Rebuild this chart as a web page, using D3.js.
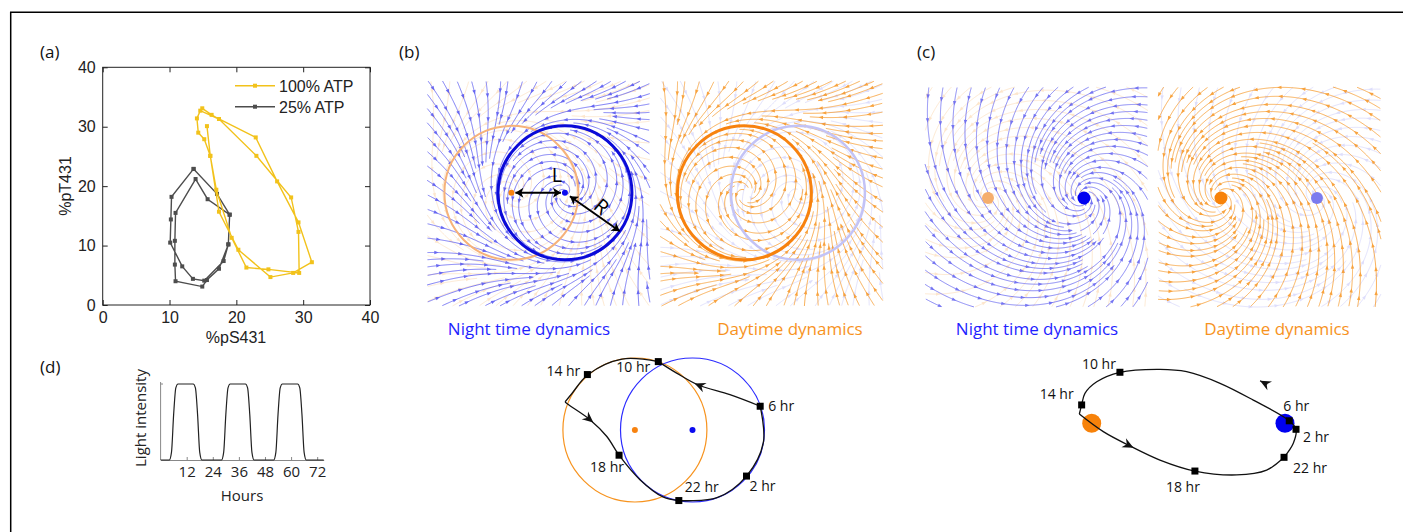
<!DOCTYPE html>
<html>
<head>
<meta charset="utf-8">
<script src="https://cdn.jsdelivr.net/npm/d3@7"></script>
<style>
  body { margin: 0; background: #fff; }
  svg { display: block; }
</style>
</head>
<body>
<svg id="fig" width="1403" height="532"></svg>
<script>
// ---- panel (a): phospho-state loops ----
var A_TICKS = [0, 10, 20, 30, 40];
var SERIES = ["100% ATP", "25% ATP"];
var ATP100_S = [14.9, 16.3, 17.4, 22.9, 26.1, 29.3, 31.3, 28.5, 25.1, 20.3, 17.4, 16.1, 15.2, 14.3, 14.1, 14.6, 17.4, 23.0, 28.2, 29.3, 29.4, 24.8, 21.5, 19.3, 17.0, 16.1, 15.6];
var ATP100_T = [33.1, 32.0, 31.3, 28.2, 20.8, 13.9, 7.2, 5.4, 4.7, 9.3, 15.7, 25.1, 27.9, 29.0, 31.4, 32.7, 31.3, 25.1, 18.1, 12.3, 5.4, 6.0, 6.3, 11.3, 19.4, 25.1, 30.1];
var ATP25_S = [13.6, 17.1, 19.0, 18.8, 17.4, 15.6, 14.9, 10.9, 10.8, 10.8, 10.9, 13.9, 15.7, 19.0, 18.8, 18.1, 15.2, 13.5, 11.9, 10.1, 10.2, 10.3, 13.6];
var ATP25_T = [22.9, 18.7, 15.2, 10.2, 6.1, 4.2, 3.1, 4.0, 6.8, 10.8, 15.5, 21.2, 17.8, 15.2, 10.2, 7.4, 4.1, 4.4, 6.5, 10.5, 14.4, 18.2, 22.9];

// ---- panel (d): light schedule ----
var HOURS = [0, 4, 5, 6, 7, 8, 15, 16, 17, 18, 19, 28, 29, 30, 31, 32, 39, 40, 41, 42, 43, 52, 53, 54, 55, 56, 63, 64, 65, 66, 67, 75];
var LIGHT = [0, 0, 0.1, 0.6, 0.95, 1, 1, 0.95, 0.6, 0.1, 0, 0, 0.1, 0.6, 0.95, 1, 1, 0.95, 0.6, 0.1, 0, 0, 0.1, 0.6, 0.95, 1, 1, 0.95, 0.6, 0.1, 0, 0];
var HOUR_TICKS = [12, 24, 36, 48, 60, 72];

// ---- panel (b): limit cycles (units of R), night centre at 0 ----
var B_SHIFT = -0.8;            // day cycle centre (L)
var B_TRAJ = [
  [[-0.19, -0.98], [0.34, -0.94], [0.75, -0.64], [0.985, -0.17], [0.94, 0.33]],
  [[0.94, 0.33], [0.52, 0.49], [0.08, 0.625], [-0.22, 0.79], [-0.475, 0.95]],
  [[-0.475, 0.95], [-0.98, 0.985], [-1.45, 0.77], [-1.68, 0.5], [-1.77, 0.39]],
  [[-1.77, 0.39], [-1.72, 0.35], [-1.42, 0.14], [-1.19, -0.09], [-1.02, -0.35], [-0.73, -0.69], [-0.41, -0.93], [-0.19, -0.98]]
];
var B_ARROWS = [[1, 2], [3, 2]];   // [segment, point index]
var B_TIMES = ["6 hr", "10 hr", "14 hr", "18 hr", "22 hr", "2 hr"];
var B_MARKS = [[0.94, 0.33], [-0.475, 0.95], [-1.46, 0.77], [-1.02, -0.35], [-0.19, -0.98], [0.75, -0.64]];

// ---- panel (c): stable foci (units of dot distance), night focus at 0 ----
var C_SHIFT = -1;
var C_TRAJ = [
  [[-0.005, -0.176], [0.043, -0.103], [0.057, -0.031], [0.022, 0.013], [-0.164, 0.12], [-0.336, 0.207], [-0.509, 0.267], [-0.647, 0.279], [-0.854, 0.264], [-0.974, 0.215], [-1.035, 0.155], [-1.052, 0.095], [-1.064, 0.048]],
  [[-1.064, 0.048], [-0.94, -0.043], [-0.802, -0.117], [-0.647, -0.19], [-0.466, -0.247], [-0.25, -0.267], [-0.095, -0.242], [-0.005, -0.176]]
];
var C_ARROWS = [[1, 2]];
var C_FREE_ARROW = [-0.129, 0.22];
var C_TIMES = ["6 hr", "10 hr", "14 hr", "18 hr", "22 hr", "2 hr"];
var C_MARKS = [[0.022, 0.013], [-0.854, 0.264], [-1.052, 0.095], [-0.466, -0.247], [-0.005, -0.176], [0.057, -0.031]];

var SANS = "'Open Sans', 'Noto Sans', sans-serif";
var HELV = "'Liberation Sans', Arial, sans-serif";
var BLUE = "#1f1fff", ORANGE = "#f7931e", GOLD = "#f2c21b", GREY = "#4d4d4d";

var svg = d3.select("#fig");

// frame
svg.append("path").attr("d", "M10.7,532V12.3H1403").attr("fill", "none").attr("stroke", "#000").attr("stroke-width", 1.5);

function panelLabel(t, x, y) {
  svg.append("text").attr("x", x).attr("y", y).text(t)
    .style("font-family", SANS).style("font-size", "17px").attr("fill", "#111");
}
panelLabel("(a)", 40, 58);
panelLabel("(b)", 399, 58);
panelLabel("(c)", 917, 58);
panelLabel("(d)", 40, 373);

// ================= panel (a) =================
(function () {
  var g = svg.append("g");
  var x = d3.scaleLinear().domain([0, 40]).range([102.7, 370]);
  var y = d3.scaleLinear().domain([0, 40]).range([305, 67.3]);
  var tf = function (s) { s.selectAll("text").style("font-family", HELV).style("font-size", "16px").attr("fill", "#222"); s.select(".domain").remove(); s.selectAll("line").attr("stroke", "#222"); };
  g.append("g").attr("transform", "translate(0,305)").call(d3.axisBottom(x).tickValues(A_TICKS).tickSize(-5).tickPadding(7)).call(tf);
  g.append("g").attr("transform", "translate(102.7,0)").call(d3.axisLeft(y).tickValues(A_TICKS).tickSize(-5).tickPadding(7)).call(tf);
  g.append("g").attr("transform", "translate(0,67.3)").call(d3.axisTop(x).tickValues(A_TICKS).tickSize(-5).tickFormat("")).call(tf);
  g.append("g").attr("transform", "translate(370,0)").call(d3.axisRight(y).tickValues(A_TICKS).tickSize(-5).tickFormat("")).call(tf);
  g.append("rect").attr("x", x(0)).attr("y", y(40)).attr("width", x(40) - x(0)).attr("height", y(0) - y(40))
    .attr("fill", "none").attr("stroke", "#222").attr("stroke-width", 1);

  var sets = [[ATP100_S, ATP100_T, GOLD], [ATP25_S, ATP25_T, GREY]];
  sets.slice().reverse().forEach(function (s) {
    var pts = s[0].map(function (v, i) { return [v, s[1][i]]; });
    g.append("path").datum(pts).attr("d", d3.line().x(function (d) { return x(d[0]); }).y(function (d) { return y(d[1]); }))
      .attr("fill", "none").attr("stroke", s[2]).attr("stroke-width", 1.4);
    g.selectAll(null).data(pts).enter().append("rect")
      .attr("x", function (d) { return x(d[0]) - 2; }).attr("y", function (d) { return y(d[1]) - 2; })
      .attr("width", 4).attr("height", 4).attr("fill", s[2]);
  });

  // legend
  sets.forEach(function (s, i) {
    var ly = 85.7 + i * 21;
    g.append("line").attr("x1", 235).attr("x2", 275).attr("y1", ly).attr("y2", ly).attr("stroke", s[2]).attr("stroke-width", 1.4);
    g.append("rect").attr("x", 253).attr("y", ly - 2).attr("width", 4).attr("height", 4).attr("fill", s[2]);
    g.append("text").attr("x", 279).attr("y", ly + 6).text(SERIES[i])
      .style("font-family", HELV).style("font-size", "16px").attr("fill", "#222");
  });

  g.append("text").attr("x", 236).attr("y", 343).attr("text-anchor", "middle").text("%pS431")
    .style("font-family", HELV).style("font-size", "16px").attr("fill", "#222");
  g.append("text").attr("transform", "translate(71,186) rotate(-90)").attr("text-anchor", "middle").text("%pT431")
    .style("font-family", HELV).style("font-size", "16px").attr("fill", "#222");
})();

// ================= panel (d) =================
(function () {
  var g = svg.append("g");
  var x = d3.scaleLinear().domain([0, 75]).range([160.6, 323.7]);
  var y = d3.scaleLinear().domain([0, 1]).range([460, 384]);
  var ax = g.append("g").attr("transform", "translate(0,460)")
    .call(d3.axisBottom(x).tickValues(HOUR_TICKS).tickSize(-3).tickSizeOuter(0).tickPadding(6));
  ax.select(".domain").attr("stroke", "#888");
  ax.selectAll("line").attr("stroke", "#888");
  ax.selectAll("text").style("font-family", SANS).style("font-size", "15px").attr("fill", "#222");
  g.append("line").attr("x1", 160.6).attr("x2", 160.6).attr("y1", 460).attr("y2", 382).attr("stroke", "#888");
  g.append("line").attr("x1", 160.6).attr("x2", 163).attr("y1", 384).attr("y2", 384).attr("stroke", "#888");
  var pts = HOURS.map(function (h, i) { return [h, LIGHT[i]]; });
  g.append("path").datum(pts).attr("d", d3.line().curve(d3.curveMonotoneX).x(function (d) { return x(d[0]); }).y(function (d) { return y(d[1]); }))
    .attr("fill", "none").attr("stroke", "#222").attr("stroke-width", 1.2);
  g.append("text").attr("x", 242).attr("y", 501).attr("text-anchor", "middle").text("Hours")
    .style("font-family", SANS).style("font-size", "15px").attr("fill", "#222");
  g.append("text").attr("transform", "translate(146,418) rotate(-90)").attr("text-anchor", "middle").text("Light intensity")
    .style("font-family", SANS).style("font-size", "15px").attr("fill", "#222");
})();

// ================= stream plots =================
function streamPlot(g, box, field, opt) {
  var d = opt.sep, dt = d * 0.5;
  var nx = Math.ceil(box.w / d) + 2, ny = Math.ceil(box.h / d) + 2;
  var grid = [];
  for (var i = 0; i < nx * ny; i++) grid.push([]);
  function cell(x, y) { return [Math.floor((x - box.x) / d), Math.floor((y - box.y) / d)]; }
  function free(x, y, r) {
    var c = cell(x, y);
    for (var i = c[0] - 1; i <= c[0] + 1; i++) for (var j = c[1] - 1; j <= c[1] + 1; j++) {
      if (i < 0 || j < 0 || i >= nx || j >= ny) continue;
      var cp = grid[j * nx + i];
      for (var k = 0; k < cp.length; k++) {
        var dx = cp[k][0] - x, dy = cp[k][1] - y;
        if (dx * dx + dy * dy < r * r) return false;
      }
    }
    return true;
  }
  function inside(x, y) { return x >= box.x && x <= box.x + box.w && y >= box.y && y <= box.y + box.h; }
  function dir(x, y) {
    var v = field(x, y); if (!v) return null;
    var n = Math.hypot(v[0], v[1]); if (n < 1e-9) return null;
    return [v[0] / n, v[1] / n];
  }
  function trace(x, y, s) {
    var pts = [], len = 0;
    while (len < opt.maxLen) {
      var a = dir(x, y); if (!a) break;
      var b = dir(x + s * a[0] * 0.5, y + s * a[1] * 0.5); if (!b) break;
      x += s * b[0]; y += s * b[1]; len += 1;
      if (!inside(x, y) || !free(x, y, dt)) break;
      pts.push([x, y]);
    }
    return pts;
  }
  var lines = [];
  for (var sy = box.y + d / 2; sy < box.y + box.h; sy += d) {
    for (var sx = box.x + d / 2; sx < box.x + box.w; sx += d) {
      if (!free(sx, sy, d)) continue;
      var f = trace(sx, sy, 1), bk = trace(sx, sy, -1);
      var pts = bk.reverse().concat([[sx, sy]], f);
      if (pts.length < opt.minLen) continue;
      pts.forEach(function (p) { var c = cell(p[0], p[1]); grid[c[1] * nx + c[0]].push(p); });
      lines.push(pts);
    }
  }
  var lg = g.append("g").attr("opacity", opt.opacity);
  lg.selectAll(null).data(lines).enter().append("path")
    .attr("d", d3.line()).attr("fill", "none").attr("stroke", opt.color).attr("stroke-width", opt.width);
  var heads = [];
  lines.forEach(function (pts, li) {
    var next = opt.arrowEvery * (0.35 + 0.3 * ((li * 7) % 5) / 4);
    for (var i = 1; i < pts.length - 1; i++) {
      if (i >= next) {
        heads.push([pts[i][0], pts[i][1], Math.atan2(pts[i + 1][1] - pts[i - 1][1], pts[i + 1][0] - pts[i - 1][0]) * 180 / Math.PI]);
        next += opt.arrowEvery;
      }
    }
  });
  lg.selectAll(null).data(heads).enter().append("path")
    .attr("d", "M2.2,0L-2.2,-1.7L-2.2,1.7Z")
    .attr("transform", function (h) { return "translate(" + h[0] + "," + h[1] + ") rotate(" + h[2] + ")"; })
    .attr("fill", opt.color);
}

// dynamics in unit coordinates (v up)
var LAM = 0.6, OM = 1.0, FOC = 0.55;
function hopf(cx) {
  return function (u, v) {
    var x = u - cx, y = v, r2 = x * x + y * y;
    if (r2 < 0.0025) return null;
    return [LAM * x * (1 - r2) - OM * y, LAM * y * (1 - r2) + OM * x];
  };
}
function focus(cx) {
  return function (u, v) {
    var x = u - cx, y = v, r2 = x * x + y * y;
    if (r2 < 0.0016) return null;
    return [-FOC * x - OM * y, -FOC * y + OM * x];
  };
}

function phaseBox(box, domX, domY, mainF, mainC, faintF, faintC) {
  var g = svg.append("g");
  var sx = d3.scaleLinear().domain(domX).range([box.x, box.x + box.w]);
  var sy = d3.scaleLinear().domain(domY).range([box.y + box.h, box.y]);
  function screen(f) {
    return function (px, py) { var r = f(sx.invert(px), sy.invert(py)); return r ? [r[0], -r[1]] : null; };
  }
  streamPlot(g, box, screen(faintF), { sep: 9, maxLen: 260, minLen: 8, color: faintC, opacity: 0.22, width: 0.9, arrowEvery: 26 });
  streamPlot(g, box, screen(mainF), { sep: 7, maxLen: 300, minLen: 8, color: mainC, opacity: 0.85, width: 0.85, arrowEvery: 24 });
  return { g: g, sx: sx, sy: sy };
}

// ---- (b) top ----
var BDX = [-2.06, 1.27], BDY = [-1.69, 1.67];
var bn = phaseBox({ x: 427, y: 81, w: 223, h: 225 }, BDX, BDY, hopf(0), "#4d4df0", hopf(B_SHIFT), ORANGE);
var bd = phaseBox({ x: 660, y: 81, w: 223, h: 225 }, BDX, BDY, hopf(B_SHIFT), ORANGE, hopf(0), "#6f6ff2");

(function () {
  var k = bn.sx(1) - bn.sx(0);
  bn.g.append("circle").attr("cx", bn.sx(B_SHIFT)).attr("cy", bn.sy(0)).attr("r", k).attr("fill", "none").attr("stroke", "#f6b27a").attr("stroke-width", 2);
  bn.g.append("circle").attr("cx", bn.sx(0)).attr("cy", bn.sy(0)).attr("r", k).attr("fill", "none").attr("stroke", "#0a0ad8").attr("stroke-width", 3);
  bd.g.append("circle").attr("cx", bd.sx(0)).attr("cy", bd.sy(0)).attr("r", k).attr("fill", "none").attr("stroke", "#c3c3f6").attr("stroke-width", 2.5);
  bd.g.append("circle").attr("cx", bd.sx(B_SHIFT)).attr("cy", bd.sy(0)).attr("r", k).attr("fill", "none").attr("stroke", "#f7820f").attr("stroke-width", 3);
  bn.g.append("circle").attr("cx", bn.sx(B_SHIFT)).attr("cy", bn.sy(0)).attr("r", 3).attr("fill", "#f7820f");
  bn.g.append("circle").attr("cx", bn.sx(0)).attr("cy", bn.sy(0)).attr("r", 3).attr("fill", "#0a0af0");

  var head = "M0,0L-8,-5L-6,0L-8,5Z";
  function dbl(x1, y1, x2, y2) {
    var a = Math.atan2(y2 - y1, x2 - x1) * 180 / Math.PI;
    bn.g.append("line").attr("x1", x1).attr("y1", y1).attr("x2", x2).attr("y2", y2).attr("stroke", "#000").attr("stroke-width", 2);
    bn.g.append("path").attr("d", head).attr("transform", "translate(" + x2 + "," + y2 + ") rotate(" + a + ")");
    bn.g.append("path").attr("d", head).attr("transform", "translate(" + x1 + "," + y1 + ") rotate(" + (a + 180) + ")");
  }
  dbl(bn.sx(B_SHIFT) + 4, bn.sy(0), bn.sx(0) - 4, bn.sy(0));
  var ang = -35 * Math.PI / 180;
  dbl(bn.sx(0) + 6 * Math.cos(ang), bn.sy(0) - 6 * Math.sin(ang), bn.sx(Math.cos(ang)), bn.sy(Math.sin(ang)));
  bn.g.append("text").attr("x", 557).attr("y", 182).attr("text-anchor", "middle").text("L")
    .style("font-family", SANS).style("font-size", "20px");
  bn.g.append("text").attr("transform", "translate(597,212) rotate(40)").attr("text-anchor", "middle").text("R")
    .style("font-family", SANS).style("font-size", "20px");
})();

// ---- (c) top ----
var CDX = [-1.656, 0.667], CDY = [-1.135, 1.156];
var cn = phaseBox({ x: 925, y: 87, w: 223, h: 220 }, CDX, CDY, focus(0), "#5c5cf0", focus(C_SHIFT), ORANGE);
var cd = phaseBox({ x: 1158, y: 87, w: 223, h: 220 }, CDX, CDY, focus(C_SHIFT), ORANGE, focus(0), "#6f6ff2");
cn.g.append("circle").attr("cx", cn.sx(C_SHIFT)).attr("cy", cn.sy(0)).attr("r", 6).attr("fill", "#f5ae6c");
cn.g.append("circle").attr("cx", cn.sx(0)).attr("cy", cn.sy(0)).attr("r", 6.5).attr("fill", "#0000f0");
cd.g.append("circle").attr("cx", cd.sx(C_SHIFT)).attr("cy", cd.sy(0)).attr("r", 6.5).attr("fill", "#f7820a");
cd.g.append("circle").attr("cx", cd.sx(0)).attr("cy", cd.sy(0)).attr("r", 6).attr("fill", "#7b7bee");

// captions
function caption(t, x, c) {
  svg.append("text").attr("x", x).attr("y", 335).attr("text-anchor", "middle").text(t)
    .style("font-family", SANS).style("font-size", "17px").attr("fill", c);
}
caption("Night time dynamics", 529, BLUE);
caption("Daytime dynamics", 790, ORANGE);
caption("Night time dynamics", 1037, BLUE);
caption("Daytime dynamics", 1277, ORANGE);

// ================= trajectories =================
var ARROW = "M0,0L-11,-5L-7.5,0L-11,5Z";
function trajectory(sx, sy, segs, arrows, marks, times, offs) {
  var g = svg.append("g");
  var line = d3.line().curve(d3.curveCatmullRom.alpha(0.5)).x(function (d) { return sx(d[0]); }).y(function (d) { return sy(d[1]); });
  g.selectAll(null).data(segs).enter().append("path").attr("d", line)
    .attr("fill", "none").attr("stroke", "#111").attr("stroke-width", 1.3);
  arrows.forEach(function (a) {
    var s = segs[a[0]], p = s[a[1]], p0 = s[a[1] - 1], p1 = s[a[1] + 1];
    var ang = Math.atan2(sy(p1[1]) - sy(p0[1]), sx(p1[0]) - sx(p0[0])) * 180 / Math.PI;
    g.append("path").attr("d", ARROW).attr("fill", "#111")
      .attr("transform", "translate(" + (sx(p[0]) + 4 * Math.cos(ang * Math.PI / 180)) + "," + (sy(p[1]) + 4 * Math.sin(ang * Math.PI / 180)) + ") rotate(" + ang + ")");
  });
  g.selectAll(null).data(marks).enter().append("rect")
    .attr("x", function (d) { return sx(d[0]) - 3.5; }).attr("y", function (d) { return sy(d[1]) - 3.5; })
    .attr("width", 7).attr("height", 7).attr("fill", "#000");
  g.selectAll(null).data(marks).enter().append("text")
    .attr("x", function (d, i) { return sx(d[0]) + offs[i][0]; })
    .attr("y", function (d, i) { return sy(d[1]) + offs[i][1] + 5; })
    .attr("text-anchor", function (d, i) { return offs[i][2] || "middle"; })
    .text(function (d, i) { return times[i]; })
    .style("font-family", SANS).style("font-size", "14px").attr("fill", "#111");
  return g;
}

// (b) bottom
(function () {
  var sx = d3.scaleLinear().domain([0, 1]).range([692.5, 764.5]);
  var sy = d3.scaleLinear().domain([0, 1]).range([430, 358]);
  var k = 72;
  svg.append("circle").attr("cx", sx(B_SHIFT)).attr("cy", sy(0)).attr("r", k).attr("fill", "none").attr("stroke", ORANGE).attr("stroke-width", 1.2);
  svg.append("circle").attr("cx", sx(0)).attr("cy", sy(0)).attr("r", k).attr("fill", "none").attr("stroke", "#2b2bff").attr("stroke-width", 1.2);
  svg.append("circle").attr("cx", sx(B_SHIFT)).attr("cy", sy(0)).attr("r", 3).attr("fill", "#f7820f");
  svg.append("circle").attr("cx", sx(0)).attr("cy", sy(0)).attr("r", 3).attr("fill", "#0a0af0");
  trajectory(sx, sy, B_TRAJ, B_ARROWS, B_MARKS, B_TIMES,
    [[8, 0, "start"], [-25, 5], [-24, -4], [-12, 12], [23, -14], [16, 10]]);
})();

// (c) bottom
(function () {
  var sx = d3.scaleLinear().domain([0, 1]).range([1285, 1478.3]);
  var sy = d3.scaleLinear().domain([0, 1]).range([423.3, 230]);
  svg.append("circle").attr("cx", sx(C_SHIFT)).attr("cy", sy(0)).attr("r", 9.5).attr("fill", "#f7820a");
  svg.append("circle").attr("cx", sx(0)).attr("cy", sy(0)).attr("r", 9.5).attr("fill", "#0000f0");
  var g = trajectory(sx, sy, C_TRAJ, C_ARROWS, C_MARKS, C_TIMES,
    [[7, -15], [-21, -8], [-25, -11], [-12, 16], [26, 11], [20, 8]]);
  var fx = sx(C_FREE_ARROW[0]), fy = sy(C_FREE_ARROW[1]);
  g.append("path").attr("d", ARROW).attr("fill", "#111").attr("transform", "translate(" + fx + "," + fy + ") rotate(-152)");
  g.append("line").attr("x1", fx).attr("y1", fy).attr("x2", fx + 8 * Math.cos(28 * Math.PI / 180)).attr("y2", fy + 8 * Math.sin(28 * Math.PI / 180))
    .attr("stroke", "#111").attr("stroke-width", 1.2);
})();
</script>
</body>
</html>
